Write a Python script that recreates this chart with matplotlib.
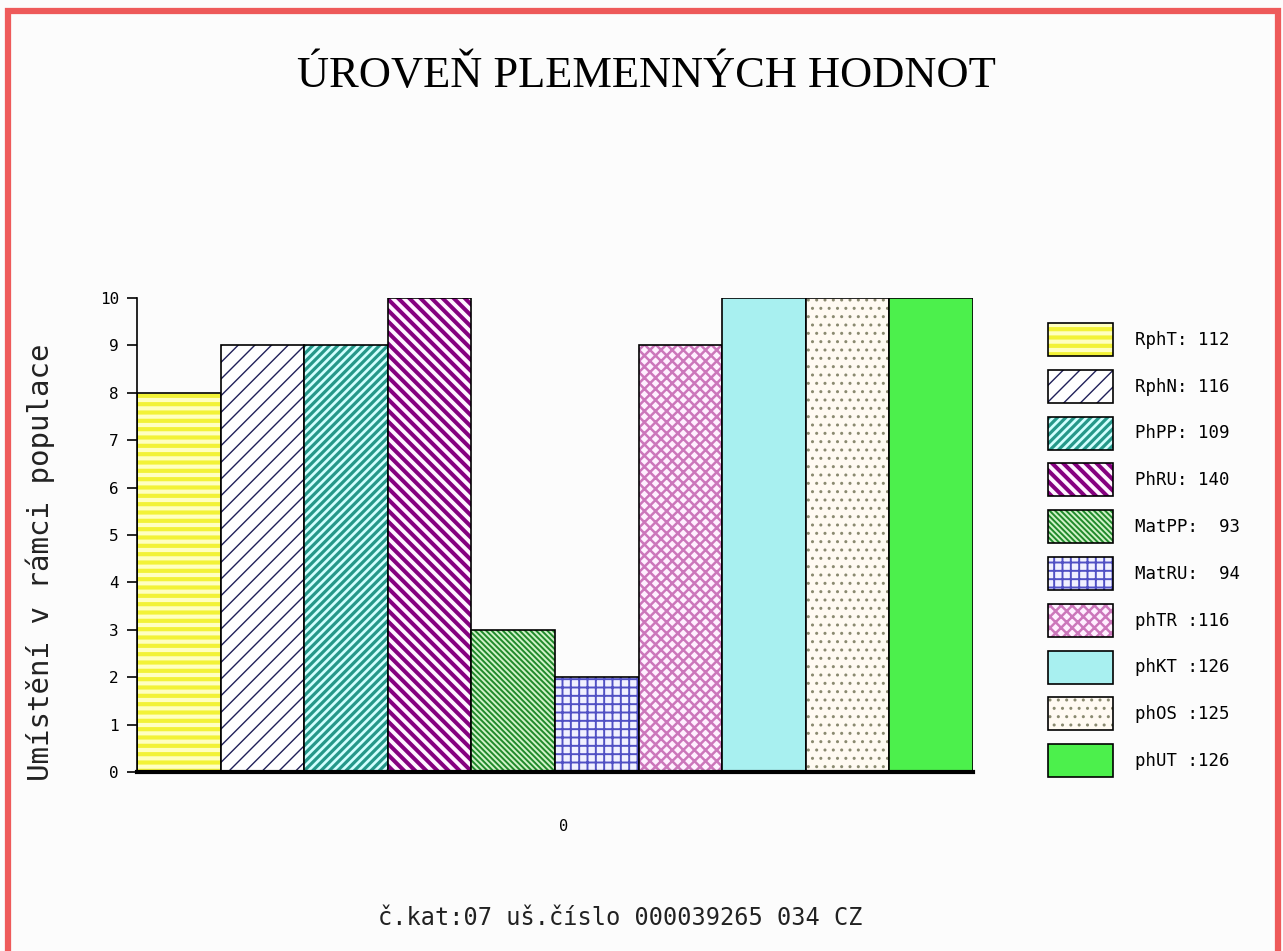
import matplotlib
import matplotlib.pyplot as plt
from matplotlib.patches import Rectangle, Patch
from matplotlib.legend_handler import HandlerTuple, HandlerPatch

matplotlib.use("Agg")

# data
labels = ["RphT: 112", "RphN: 116", "PhPP: 109", "PhRU: 140", "MatPP:  93",
          "MatRU:  94", "phTR :116", "phKT :126", "phOS :125", "phUT :126"]
ranks = [8, 9, 9, 10, 3, 2, 9, 10, 10, 10]
yticks = list(range(0, 11))

# face colour, hatch colour, hatch, hatch linewidth
styles = [
    ("#ffffc0", "#f2f236", "--", 3.0),
    ("#ffffff", "#20205a", "//", 1.0),
    ("#d2ffff", "#26988a", "////", 2.3),
    ("#fff4ff", "#85007f", "\\\\\\", 2.9),
    ("#d0f2c8", "#1f8a2a", "\\\\\\\\\\\\", 1.4),
    ("#f0f0ff", "#5050c4", "++", 1.4),
    ("#fff0ff", "#cc77bb", "xxx", 1.8),
    ("#a8f0f0", "#a8f0f0", "", 1.0),
    ("#fffaf2", "#8a8a70", "..", 1.0),
    ("#4cf04c", "#4cf04c", "", 1.0),
]


def legend_patch(legend, orig_handle, xdescent, ydescent, width, height, **kw):
    p = Rectangle((-xdescent, -ydescent), width, height)
    if hasattr(p, "set_hatch_linewidth"):
        p.set_hatch_linewidth(orig_handle.hlw)
    return p


fig = plt.figure(figsize=(12.83, 9.51), dpi=100)
fig.patch.set_facecolor("#fcfcfc")

# red frame round the picture
fig.add_artist(Rectangle((7.5 / 1283, -0.02), 1270 / 1283, 1.0 - 10.5 / 951 + 0.02,
                         transform=fig.transFigure, fill=False,
                         edgecolor="#ee5a5a", linewidth=4.5))

ax = fig.add_axes([137 / 1283, 1 - 772 / 951, 836 / 1283, 474 / 951])
ax.set_facecolor("#fcfcfc")

handles = []
hmap = {tuple: HandlerTuple(ndivide=1, pad=0)}
for i, (v, st) in enumerate(zip(ranks, styles)):
    face, hcol, hatch, hlw = st
    with plt.rc_context({"hatch.linewidth": hlw}):
        b = ax.bar(i, v, width=1.0, color=face, edgecolor=hcol, hatch=hatch,
                   linewidth=0)[0]
        hp = Patch(facecolor=face, edgecolor=hcol, hatch=hatch, linewidth=0)
    hp.hlw = hlw
    if hasattr(b, "set_hatch_linewidth"):
        b.set_hatch_linewidth(hlw)
    hmap[hp] = HandlerPatch(patch_func=legend_patch)
    ax.bar(i, v, width=1.0, fill=False, edgecolor="black", linewidth=1.2)
    op = Patch(fill=False, edgecolor="black", linewidth=1.2)
    handles.append((hp, op))

ax.set_xlim(-0.5, 9.5)
ax.set_ylim(0, 10)
ax.set_yticks(yticks)
ax.set_xticks([4.6])
ax.set_xticklabels(["0"])
ax.tick_params(axis="x", length=0, pad=34, labelsize=11)
ax.tick_params(axis="y", length=7, width=1.2, pad=6, labelsize=11.5)
for t in ax.get_yticklabels() + ax.get_xticklabels():
    t.set_family("DejaVu Sans Mono")
ax.spines["top"].set_visible(False)
ax.spines["right"].set_visible(False)
ax.spines["bottom"].set_linewidth(3)
ax.spines["left"].set_linewidth(1.2)

ax.set_ylabel("Umístění v rámci populace", family="DejaVu Sans Mono",
              fontsize=21, color="#222222")
ax.yaxis.set_label_coords(-0.098, 0.443)

fig.text(646 / 1283, 1 - 76 / 951, "ÚROVEŇ PLEMENNÝCH HODNOT",
         family="Liberation Serif", fontsize=32, ha="center", va="center")
fig.text(620 / 1283, 1 - 918 / 951, "č.kat:07 uš.číslo 000039265 034 CZ",
         family="DejaVu Sans Mono", fontsize=17, ha="center", va="center",
         color="#222222")

fig.legend(handles, labels, handler_map=hmap,
           loc="upper left", bbox_to_anchor=(1048 / 1283, 1 - 323 / 951),
           frameon=False, borderpad=0, borderaxespad=0,
           prop={"family": "DejaVu Sans Mono", "size": 12.5},
           handlelength=3.74, handleheight=2.54, labelspacing=0.80,
           handletextpad=1.27)

fig.savefig("out.png", dpi=100, facecolor=fig.get_facecolor())
